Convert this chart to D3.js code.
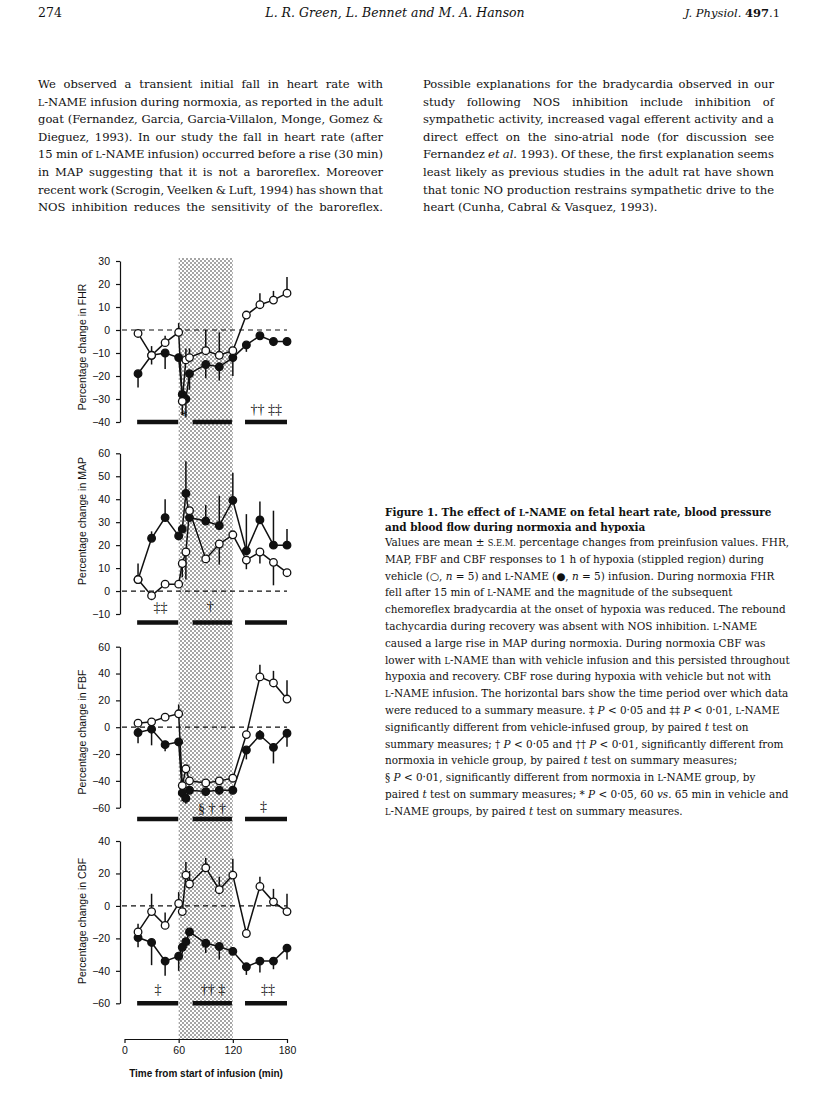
<!DOCTYPE html>
<meta charset="utf-8">
<style>
body { margin: 0; background: #fff; }
svg { display: block; }
.serif { font-family: 'DejaVu Serif', 'Liberation Serif', serif; fill: #111; }
.sym { font-family: 'Liberation Serif', 'DejaVu Serif', serif; fill: #111; }
.sans { font-family: 'Liberation Sans', Arial, sans-serif; fill: #111; }
.axis path, .axis line { stroke: #111; stroke-width: 1.2; }
.axis text { font-family: 'Liberation Sans', Arial, sans-serif; font-size: 10.5px; fill: #111; }
</style>
<body>
<svg id="page" width="816" height="1110"></svg>
<script src="https://cdn.jsdelivr.net/npm/d3@7"></script>
<script>

// ---- data ----
var times = [15, 30, 45, 60, 64, 68, 72, 90, 105, 120, 135, 150, 165, 180];

// FHR
var fhrVehicle    = [-1.5, -11, -5.5, -1, -31, -13, -12, -9, -11, -9, 6.5, 11, 13, 16];
var fhrVehicleErr = [0, 4, 3, 4, 0, 5, 4, 9, 10, 0, 0, 5, 4, 7];
var fhrLname      = [-19, -11, -10, -12, -28, -30, -19, -15, -16, -12, -6.5, -2.5, -5, -5];
var fhrLnameErr   = [-6, -4, -7, 0, -9, -8, -7, -6, -6, -8, -3, 0, -2, 0];
// MAP
var mapVehicle    = [5, -2, 3, 3, 12, 17, 35, 14, 20.5, 24.5, 13.5, 17, 12.5, 8];
var mapVehicleErr = [0, -2, 0, 0, -6, -12, 0, 0, -9, 0, -4, -5, -10, 0];
var mapLname      = [5, 23, 32, 24, 27, 42.5, 32, 30.5, 28.5, 39.5, 17.5, 31, 20, 20];
var mapLnameErr   = [7, 3, 8, 0, 0, 14, 0, 7, 13, 12, 16, 8, 15, 7];
// FBF
var fbfVehicle    = [3, 4, 7.5, 10, -43.5, -31, -40, -41.5, -40, -38, -5.5, 37.5, 33, 21];
var fbfVehicleErr = [0, 0, 0, 7, 0, 0, 0, 0, 0, 0, 0, 9, 9, 14];
var fbfLname      = [-4, -1.5, -13, -11, -49, -53, -47, -48, -47, -47, -17, -6, -15, -4.5];
var fbfLnameErr   = [-8, -12, -5, 0, -6, -4, -3, -3, -3, -3, -7, 4, -12, -10];
// CBF
var cbfVehicle    = [-16, -3.5, -12, 1.5, -3.5, 19, 13.5, 23.5, 10, 19, -17, 12, 2.5, -3.5];
var cbfVehicleErr = [5, 11, 8, 7, 0, 8, 8, 6, 8, 10, 0, 6, 8, 11];
var cbfLname      = [-19.5, -22.5, -34, -31, -25.5, -22, -16, -23, -25, -28, -37.5, -34, -34, -26];
var cbfLnameErr   = [-6, -14, -9, -9, -4, -4, 0, -6, -8, 0, -5, -7, -5, -7];

var hypoxia = [60, 120];
var summaryPeriods = [[14, 59.5], [75.5, 119], [133.5, 180]];
var xTicks = [0, 60, 120, 180];

// significance marks: [time, value, text]
var fhrMarks = [[66, -37.5, "*"], [157, -35, "†† ‡‡"]];
var mapMarks = [[40, -7.5, "‡‡"], [95, -7, "†"]];
var fbfMarks = [[97, -61, "§ † †"], [154, -60, "‡"]];
var cbfMarks = [[37, -52, "‡"], [98, -52, "†† ‡"], [159, -52, "‡‡"]];

// ---- text ----
var headerLeft = "274";
var headerMid = "_L. R. Green, L. Bennet and M. A. Hanson_";
var headerRight = "_J. Physiol._ ~497~.1";

var bodyLeft = [
  "We observed a transient initial fall in heart rate with",
  "^l^-NAME infusion during normoxia, as reported in the adult",
  "goat (Fernandez, Garcia, Garcia-Villalon, Monge, Gomez &",
  "Dieguez, 1993). In our study the fall in heart rate (after",
  "15 min of ^l^-NAME infusion) occurred before a rise (30 min)",
  "in MAP suggesting that it is not a baroreflex. Moreover",
  "recent work (Scrogin, Veelken & Luft, 1994) has shown that",
  "NOS inhibition reduces the sensitivity of the baroreflex."
];
var bodyRight = [
  "Possible explanations for the bradycardia observed in our",
  "study following NOS inhibition include inhibition of",
  "sympathetic activity, increased vagal efferent activity and a",
  "direct effect on the sino-atrial node (for discussion see",
  "Fernandez _et al._ 1993). Of these, the first explanation seems",
  "least likely as previous studies in the adult rat have shown",
  "that tonic NO production restrains sympathetic drive to the",
  "heart (Cunha, Cabral & Vasquez, 1993)."
];
var captionTitle = [
  "Figure 1. The effect of ^l^-NAME on fetal heart rate, blood pressure",
  "and blood flow during normoxia and hypoxia"
];
var captionBody = [
  "Values are mean ± ^s.e.m.^ percentage changes from preinfusion values. FHR,",
  "MAP, FBF and CBF responses to 1 h of hypoxia (stippled region) during",
  "vehicle (○, _n_ = 5) and ^l^-NAME (●, _n_ = 5) infusion. During normoxia FHR",
  "fell after 15 min of ^l^-NAME and the magnitude of the subsequent",
  "chemoreflex bradycardia at the onset of hypoxia was reduced. The rebound",
  "tachycardia during recovery was absent with NOS inhibition. ^l^-NAME",
  "caused a large rise in MAP during normoxia. During normoxia CBF was",
  "lower with ^l^-NAME than with vehicle infusion and this persisted throughout",
  "hypoxia and recovery. CBF rose during hypoxia with vehicle but not with",
  "^l^-NAME infusion. The horizontal bars show the time period over which data",
  "were reduced to a summary measure. ‡ _P_ < 0·05 and ‡‡ _P_ < 0·01, ^l^-NAME",
  "significantly different from vehicle-infused group, by paired _t_ test on",
  "summary measures; † _P_ < 0·05 and †† _P_ < 0·01, significantly different from",
  "normoxia in vehicle group, by paired _t_ test on summary measures;",
  "§ _P_ < 0·01, significantly different from normoxia in ^l^-NAME group, by",
  "paired _t_ test on summary measures; * _P_ < 0·05, 60 _vs._ 65 min in vehicle and",
  "^l^-NAME groups, by paired _t_ test on summary measures."
];

var svg = d3.select("#page");

// _italic_, ~bold~, ^small caps^
function rich(sel, str) {
  str.split(/(_[^_]+_|~[^~]+~|\^[^^]+\^)/g).forEach(function(part) {
    if (!part) return;
    var t = sel.append("tspan");
    var c = part[0], inner = part.slice(1, -1);
    if (c === "_" && part.length > 2) t.attr("font-style", "italic").text(inner);
    else if (c === "~") t.attr("font-weight", "bold").text(inner);
    else if (c === "^") t.attr("font-size", "0.8em").text(inner.toUpperCase());
    else t.text(part);
  });
  return sel;
}

function textBlock(lines, o) {
  var g = svg.append("g").attr("class", "serif").attr("font-size", o.size);
  if (o.bold) g.attr("font-weight", "bold");
  return lines.map(function(s, i) {
    var t = g.append("text").attr("x", o.x).attr("y", o.y + i * o.lead);
    rich(t, s);
    return t;
  });
}

function justify(t, width) {
  var len = t.node().getComputedTextLength();
  var spaces = (t.text().match(/ /g) || []).length;
  if (!spaces) return;
  t.style("word-spacing", ((width - len) / spaces) + "px");
  if (Math.abs(t.node().getComputedTextLength() - width) > 2)
    t.style("word-spacing", null).attr("textLength", width).attr("lengthAdjust", "spacing");
}

// header
textBlock([headerLeft], {x: 38, y: 17, lead: 0, size: 12.5});
textBlock([headerMid], {x: 395, y: 17, lead: 0, size: 12.5})[0].attr("text-anchor", "middle");
textBlock([headerRight], {x: 780, y: 17, lead: 0, size: 11.5})[0].attr("text-anchor", "end");

// two-column body, sized so the average line roughly fills the column
var colW = 345;
var bl = textBlock(bodyLeft, {x: 38, y: 88, lead: 17.6, size: 12});
var br = textBlock(bodyRight, {x: 423, y: 88, lead: 17.6, size: 12});
var widest = d3.max(bl.concat(br), function(t) { return t.node().getComputedTextLength(); });
var fs = 12 * colW * 1.03 / widest;
bl.concat(br).forEach(function(t) { t.attr("font-size", fs); });
bl.forEach(function(t) { justify(t, colW); });
br.forEach(function(t, i) { if (i < br.length - 1) justify(t, 351); });

// caption
var ct = textBlock(captionTitle, {x: 385, y: 516, lead: 15, size: 11, bold: true});
var cb = textBlock(captionBody, {x: 385, y: 546, lead: 16.8, size: 11});
var cw = d3.max(cb, function(t) { return t.node().getComputedTextLength(); });
var cfs = 11 * 405 / cw;
cb.forEach(function(t) { t.attr("font-size", cfs); });
ct.forEach(function(t) { t.attr("font-size", cfs); });

// ---- chart ----
var x = d3.scaleLinear().domain([0, 180]).range([124.5, 287]);
var axisX = 120;

var defs = svg.append("defs");
var pat = defs.append("pattern").attr("id", "stipple")
  .attr("width", 4).attr("height", 4).attr("patternUnits", "userSpaceOnUse");
pat.append("rect").attr("width", 4).attr("height", 4).attr("fill", "#fff");
pat.append("circle").attr("cx", 1).attr("cy", 1).attr("r", 0.8).attr("fill", "#333");
pat.append("circle").attr("cx", 3).attr("cy", 3).attr("r", 0.8).attr("fill", "#333");

svg.append("rect")
  .attr("x", x(hypoxia[0])).attr("width", x(hypoxia[1]) - x(hypoxia[0]))
  .attr("y", 258).attr("height", 1039 - 258)
  .attr("fill", "url(#stipple)");

var panels = [
  {name: "FHR", domain: [-40, 30], range: [422, 261], step: 10, veh: fhrVehicle, vehErr: fhrVehicleErr,
   ln: fhrLname, lnErr: fhrLnameErr, bar: -40, labelY: 347, marks: fhrMarks},
  {name: "MAP", domain: [-10, 60], range: [614, 453.3], step: 10, veh: mapVehicle, vehErr: mapVehicleErr,
   ln: mapLname, lnErr: mapLnameErr, bar: -13.7, labelY: 521, marks: mapMarks},
  {name: "FBF", domain: [-60, 60], range: [807.7, 646.7], step: 20, veh: fbfVehicle, vehErr: fbfVehicleErr,
   ln: fbfLname, lnErr: fbfLnameErr, bar: -68.5, labelY: 732, marks: fbfMarks},
  {name: "CBF", domain: [-60, 40], range: [1003.3, 841], step: 20, veh: cbfVehicle, vehErr: cbfVehicleErr,
   ln: cbfLname, lnErr: cbfLnameErr, bar: -60, labelY: 921, marks: cbfMarks}
];

panels.forEach(function(p) {
  var y = d3.scaleLinear().domain(p.domain).range(p.range);
  var g = svg.append("g");

  g.append("g").attr("class", "axis")
    .attr("transform", "translate(" + axisX + ",0)")
    .call(d3.axisLeft(y).tickValues(d3.range(p.domain[0], p.domain[1] + 1, p.step))
      .tickSize(4).tickSizeOuter(0).tickPadding(6));

  g.append("text").attr("class", "sans")
    .attr("transform", "translate(86," + p.labelY + ") rotate(-90)")
    .attr("text-anchor", "middle").attr("font-size", 10.5)
    .text("Percentage change in " + p.name);

  g.append("line")
    .attr("x1", axisX + 2).attr("x2", x(180))
    .attr("y1", y(0)).attr("y2", y(0))
    .attr("stroke", "#111").attr("stroke-width", 1.2).attr("stroke-dasharray", "5,4");

  g.selectAll(".sum").data(summaryPeriods).enter().append("line")
    .attr("x1", function(d) { return x(d[0]); }).attr("x2", function(d) { return x(d[1]); })
    .attr("y1", y(p.bar)).attr("y2", y(p.bar))
    .attr("stroke", "#111").attr("stroke-width", 4.5);

  g.selectAll(".mk").data(p.marks).enter().append("text")
    .attr("class", "sym").attr("font-size", 14)
    .attr("text-anchor", "middle").attr("dominant-baseline", "central")
    .style("text-rendering", "geometricPrecision")
    .attr("x", function(d) { return x(d[0]); }).attr("y", function(d) { return y(d[1]); })
    .text(function(d) { return d[2]; });

  function series(vals, errs, fill) {
    var pts = times.map(function(t, i) { return {t: t, v: vals[i], e: errs[i]}; });
    g.append("path").datum(pts)
      .attr("d", d3.line().x(function(d) { return x(d.t); }).y(function(d) { return y(d.v); }))
      .attr("fill", "none").attr("stroke", "#111").attr("stroke-width", 1.5);
    g.selectAll(null).data(pts.filter(function(d) { return d.e; })).enter().append("line")
      .attr("x1", function(d) { return x(d.t); }).attr("x2", function(d) { return x(d.t); })
      .attr("y1", function(d) { return y(d.v); }).attr("y2", function(d) { return y(d.v + d.e); })
      .attr("stroke", "#111").attr("stroke-width", 1.5);
    g.selectAll(null).data(pts).enter().append("circle")
      .attr("cx", function(d) { return x(d.t); }).attr("cy", function(d) { return y(d.v); })
      .attr("r", 3.8).attr("fill", fill).attr("stroke", "#111").attr("stroke-width", 1.3);
  }
  series(p.ln, p.lnErr, "#111");
  series(p.veh, p.vehErr, "#fff");
});

svg.append("g").attr("class", "axis")
  .attr("transform", "translate(0,1039)")
  .call(d3.axisBottom(x).tickValues(xTicks).tickSize(4).tickSizeOuter(0).tickPadding(4));

svg.append("text").attr("class", "sans")
  .attr("x", 206).attr("y", 1077).attr("text-anchor", "middle")
  .attr("font-size", 10).attr("font-weight", "bold")
  .text("Time from start of infusion (min)");

</script>
</body>
